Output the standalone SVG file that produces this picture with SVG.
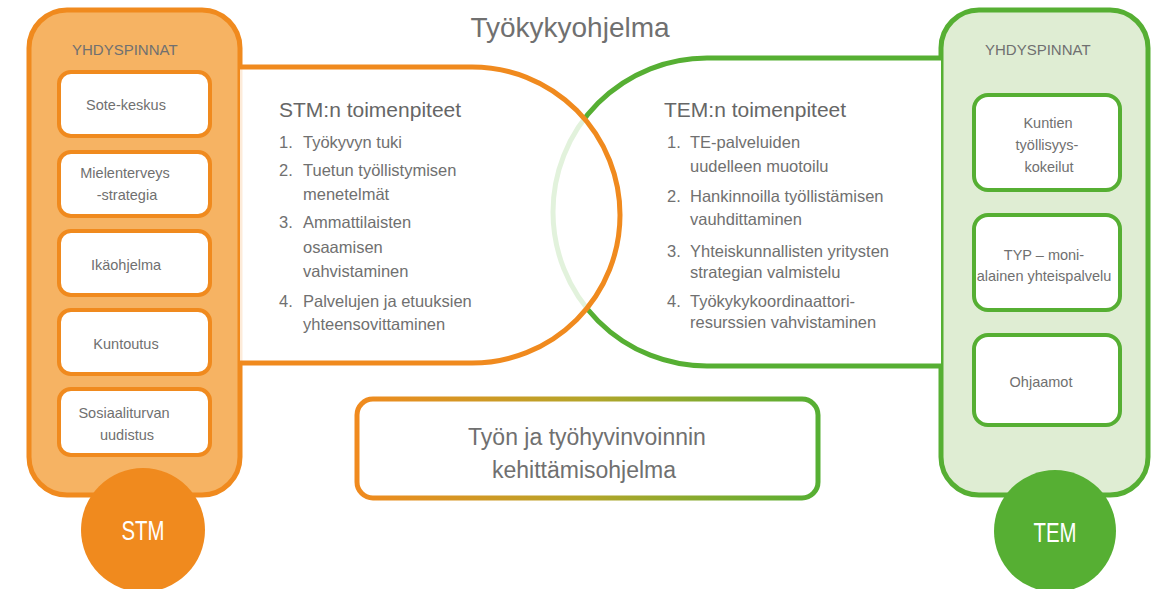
<svg xmlns="http://www.w3.org/2000/svg" width="1151" height="589" viewBox="0 0 1151 589">
<defs>
<linearGradient id="og" gradientUnits="userSpaceOnUse" x1="357" y1="0" x2="818" y2="0">
<stop offset="0" stop-color="#F08A1E"/>
<stop offset="0.5" stop-color="#B4A52A"/>
<stop offset="1" stop-color="#56AF33"/>
</linearGradient>
<style>
text{font-family:"Liberation Sans",Arial,sans-serif;fill:#707070}
.t{font-size:14.5px;text-anchor:middle}
.hd{font-size:15px}
.h2{font-size:21px;fill:#666}
.li{font-size:16.5px}
.ob{fill:#F6B363;stroke:#F08A1E;stroke-width:5}
.gb{fill:#DFEDD3;stroke:#56AF33;stroke-width:5}
.oi{fill:#fff;stroke:#F08A1E;stroke-width:4}
.gi{fill:#fff;stroke:#56AF33;stroke-width:4}
.ct{font-size:28px;fill:#fff;text-anchor:middle}
</style>
</defs>
<rect width="1151" height="589" fill="#fff"/>
<g id="title"><text x="570" y="37" font-size="28" text-anchor="middle" fill="#6a6a6a">Työkykyohjelma</text></g>

<g id="stm-yhdyspinnat">
<rect class="ob" x="29" y="10" width="211" height="485" rx="38"/>
<text class="hd" x="72" y="55">YHDYSPINNAT</text>
</g>
<g id="stm-sote"><rect class="oi" x="59" y="72" width="151" height="64" rx="12"/><text class="t" x="126" y="110">Sote-keskus</text></g>
<g id="stm-mieli"><rect class="oi" x="59" y="152" width="151" height="64" rx="12"/><text class="t" x="125" y="178">Mielenterveys</text><text class="t" x="127" y="200">-strategia</text></g>
<g id="stm-ika"><rect class="oi" x="59" y="231" width="151" height="64" rx="12"/><text class="t" x="126" y="270">Ikäohjelma</text></g>
<g id="stm-kuntoutus"><rect class="oi" x="59" y="310" width="151" height="64" rx="12"/><text class="t" x="126" y="349">Kuntoutus</text></g>
<g id="stm-sosiaali"><rect class="oi" x="59" y="389" width="151" height="66" rx="12"/><text class="t" x="124" y="418">Sosiaaliturvan</text><text class="t" x="127" y="440">uudistus</text></g>

<g id="tem-yhdyspinnat">
<rect class="gb" x="941" y="10" width="207" height="485" rx="38"/>
<text class="hd" x="985" y="55">YHDYSPINNAT</text>
</g>
<g id="tem-kuntien"><rect class="gi" x="974" y="95" width="146" height="95" rx="14"/><text class="t" x="1048" y="128">Kuntien</text><text class="t" x="1047" y="150">työllisyys-</text><text class="t" x="1049" y="172">kokeilut</text></g>
<g id="tem-typ"><rect class="gi" x="974" y="215" width="146" height="95" rx="14"/><text class="t" x="1044" y="260">TYP – moni-</text><text class="t" x="1044" y="281">alainen yhteispalvelu</text></g>
<g id="tem-ohjaamot"><rect class="gi" x="974" y="335" width="146" height="90" rx="14"/><text class="t" x="1041" y="387">Ohjaamot</text></g>

<g id="tem-toimenpiteet">
<path d="M941 58 H707 A154 154 0 0 0 707 366 H941" fill="#fff" stroke="#56AF33" stroke-width="5"/>
</g>
<g id="stm-toimenpiteet">
<path d="M240 67 H472 A148 148 0 0 1 472 363 H240" fill="#fff" fill-opacity="0.83" stroke="#F08A1E" stroke-width="5"/>
<text class="h2" x="279" y="117">STM:n toimenpiteet</text>
<text class="li" x="279" y="148">1.</text><text class="li" x="303" y="148">Työkyvyn tuki</text>
<text class="li" x="279" y="176">2.</text><text class="li" x="303" y="176">Tuetun työllistymisen</text>
<text class="li" x="303" y="200">menetelmät</text>
<text class="li" x="279" y="228">3.</text><text class="li" x="303" y="228">Ammattilaisten</text>
<text class="li" x="303" y="253">osaamisen</text>
<text class="li" x="303" y="277">vahvistaminen</text>
<text class="li" x="279" y="307">4.</text><text class="li" x="303" y="307">Palvelujen ja etuuksien</text>
<text class="li" x="303" y="330">yhteensovittaminen</text>
</g>
<g id="tem-toimenpiteet-text">
<text class="h2" x="664" y="117">TEM:n toimenpiteet</text>
<text class="li" x="667" y="148">1.</text><text class="li" x="690" y="148">TE-palveluiden</text>
<text class="li" x="690" y="172">uudelleen muotoilu</text>
<text class="li" x="667" y="202">2.</text><text class="li" x="690" y="202">Hankinnoilla työllistämisen</text>
<text class="li" x="690" y="225">vauhdittaminen</text>
<text class="li" x="667" y="257">3.</text><text class="li" x="690" y="257">Yhteiskunnallisten yritysten</text>
<text class="li" x="690" y="278">strategian valmistelu</text>
<text class="li" x="667" y="307">4.</text><text class="li" x="690" y="307">Työkykykoordinaattori-</text>
<text class="li" x="690" y="328">resurssien vahvistaminen</text>
</g>

<g id="kehittamisohjelma">
<rect x="357" y="399" width="461" height="99" rx="16" fill="#fff" stroke="url(#og)" stroke-width="5"/>
<text x="587" y="445" font-size="23" text-anchor="middle">Työn ja työhyvinvoinnin</text>
<text x="584" y="478" font-size="23" text-anchor="middle">kehittämisohjelma</text>
</g>

<g id="stm">
<circle cx="143" cy="530" r="62" fill="#F08A1E"/>
<text class="ct" x="143" y="540" textLength="43" lengthAdjust="spacingAndGlyphs">STM</text>
</g>
<g id="tem">
<circle cx="1055" cy="531" r="61" fill="#56AF33"/>
<text class="ct" x="1055" y="542" textLength="43" lengthAdjust="spacingAndGlyphs">TEM</text>
</g>
<g id="connectors"></g>
</svg>
